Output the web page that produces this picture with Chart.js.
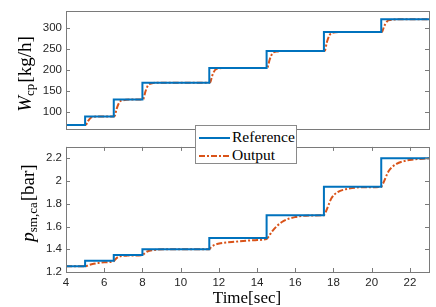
<!DOCTYPE html>
<html>
<head>
<meta charset="utf-8">
<script src="https://cdn.jsdelivr.net/npm/chart.js@4"></script>
<style>
  body { margin: 0; background: #fff; }
  #wrap { position: relative; width: 436px; height: 307px; overflow: hidden; }
  canvas { position: absolute; left: 0; }
  .ytitle { position: absolute; font-family: "Liberation Serif", serif; font-size: 19px; color: #000;
            white-space: nowrap; transform: translate(-50%, -50%) rotate(-90deg); }
  .ytitle sub { font-size: 13px; font-style: normal; vertical-align: -3px; line-height: 0; margin-right: 1px; }
  #xtitle { position: absolute; left: 247px; top: 298px; transform: translate(-50%, -50%);
            font-family: "Liberation Serif", serif; font-size: 17px; white-space: nowrap; }
  #legend { position: absolute; left: 195px; top: 125px; width: 100px; height: 37px; background: #fff;
            border: 1px solid #8a8a8a; font-family: "Liberation Serif", serif; font-size: 15.5px; }
  #legend .row { position: absolute; left: 3px; height: 18px; line-height: 18px; white-space: nowrap; }
  #legend svg { vertical-align: middle; margin-right: 2px; }
</style>
</head>
<body>
<div id="wrap">
  <canvas id="top" width="436" height="140" style="top:0"></canvas>
  <canvas id="bottom" width="436" height="171" style="top:136px"></canvas>
  <div class="ytitle" style="left:25px; top:74px;"><i>W</i><sub>cp</sub>[kg/h]</div>
  <div class="ytitle" style="left:28px; top:203px;"><i>p</i><sub>sm,ca</sub>[bar]</div>
  <div id="xtitle">Time[sec]</div>
  <div id="legend">
    <div class="row" style="top:2px"><svg width="31" height="4"><line x1="0" y1="2" x2="31" y2="2" stroke="#0072BD" stroke-width="2"/></svg>Reference</div>
    <div class="row" style="top:20px"><svg width="31" height="4"><line x1="0" y1="2" x2="31" y2="2" stroke="#D95319" stroke-width="2" stroke-dasharray="6,2,2,2"/></svg>Output</div>
  </div>
</div>
<script>
// time axis
var xMin = 4, xMax = 23;
var xTicks = [4, 6, 8, 10, 12, 14, 16, 18, 20, 22];

// compressor flow W_cp [kg/h]
var wTicks = [100, 150, 200, 250, 300];
var wRefTime = [4, 5, 6.5, 8, 11.5, 14.5, 17.5, 20.5, 23];
var wRefVal = [70, 90, 130, 170, 205, 245, 290, 320, 320];
var wOutTime = [4, 5, 5.05, 5.15, 5.3, 5.5, 5.9,
  6.5, 6.55, 6.65, 6.8, 7.0, 7.4,
  8, 8.05, 8.15, 8.3, 8.5, 8.9,
  11.5, 11.55, 11.65, 11.8, 12.0, 12.4,
  14.5, 14.55, 14.65, 14.8, 15.0, 15.4,
  17.5, 17.55, 17.65, 17.8, 18.0, 18.4,
  20.5, 20.55, 20.65, 20.8, 21.0, 21.4, 23];
var wOutVal = [70, 70, 70.5, 79, 87, 89.2, 90,
  90, 91, 108, 124, 128.5, 130,
  130, 131, 148, 164, 168.5, 170,
  170, 171, 186, 200, 204, 205,
  205, 206, 223, 239, 243.5, 245,
  245, 246, 265, 283, 288.5, 290,
  290, 291, 303, 315, 318.5, 320, 320];

// supply manifold pressure p_sm,ca [bar]
var pTicks = [1.2, 1.4, 1.6, 1.8, 2, 2.2];
var pRefTime = [4, 5, 6.5, 8, 11.5, 14.5, 17.5, 20.5, 23];
var pRefVal = [1.25, 1.3, 1.35, 1.4, 1.5, 1.7, 1.95, 2.2, 2.2];
var pOutTime = [4, 5, 5.2, 5.45, 6, 6.5, 6.6, 6.75, 7.2, 8, 8.1, 8.25, 8.65, 9.5, 11.5,
  11.6, 11.8, 12.1, 12.9, 13.9, 14.5, 14.6, 14.8, 15.3, 16, 17, 17.5,
  17.6, 17.9, 18.2, 18.7, 19.5, 20.5, 20.6, 20.9, 21.3, 21.7, 22.1, 23];
var pOutVal = [1.25, 1.25, 1.262, 1.272, 1.285, 1.295, 1.315, 1.334, 1.344, 1.348, 1.362, 1.38, 1.394, 1.4, 1.4,
  1.42, 1.44, 1.453, 1.467, 1.48, 1.49, 1.51, 1.56, 1.64, 1.683, 1.697, 1.7,
  1.73, 1.85, 1.9, 1.93, 1.945, 1.95, 1.98, 2.09, 2.15, 2.175, 2.188, 2.2];

var blue = '#0072BD';
var orange = '#D95319';

function pts(xs, ys) {
  return xs.map(function(x, i) { return {x: x, y: ys[i]}; });
}

// matlab style box with inward ticks
var boxPlugin = {
  id: 'box',
  afterDraw: function(chart, args, opts) {
    var ctx = chart.ctx, a = chart.chartArea;
    var xs = chart.scales.x, ys = chart.scales.y;
    ctx.save();
    ctx.strokeStyle = '#7a7a7a';
    ctx.lineWidth = 1;
    ctx.strokeRect(Math.round(a.left) + 0.5, Math.round(a.top) + 0.5,
      Math.round(a.right - a.left), Math.round(a.bottom - a.top));
    ctx.beginPath();
    opts.yTicks.forEach(function(v) {
      var y = Math.round(ys.getPixelForValue(v)) + 0.5;
      ctx.moveTo(a.left, y); ctx.lineTo(a.left + 4, y);
      ctx.moveTo(a.right, y); ctx.lineTo(a.right - 4, y);
    });
    if (opts.xTicks) {
      opts.xTicks.forEach(function(v) {
        var x = Math.round(xs.getPixelForValue(v)) + 0.5;
        ctx.moveTo(x, a.bottom); ctx.lineTo(x, a.bottom - 4);
        ctx.moveTo(x, a.top); ctx.lineTo(x, a.top + 4);
      });
    }
    ctx.stroke();
    ctx.restore();
  }
};

var tickFont = {family: '"Liberation Sans", Arial, sans-serif', size: 11.5};

function makeChart(id, refT, refV, outT, outV, yMin, yMax, yTicks, showX, pad) {
  return new Chart(document.getElementById(id), {
    type: 'line',
    data: {
      datasets: [{
        label: 'Reference',
        data: pts(refT, refV),
        borderColor: blue,
        borderWidth: 2,
        stepped: 'before',
        pointRadius: 0
      }, {
        label: 'Output',
        data: pts(outT, outV),
        borderColor: orange,
        borderWidth: 2,
        borderDash: [6, 2, 2, 2],
        cubicInterpolationMode: 'monotone',
        pointRadius: 0
      }]
    },
    options: {
      responsive: false,
      animation: false,
      devicePixelRatio: 1,
      layout: {padding: pad},
      plugins: {
        legend: {display: false},
        tooltip: {enabled: false},
        box: {yTicks: yTicks, xTicks: showX ? xTicks : null}
      },
      scales: {
        x: {
          type: 'linear',
          min: xMin,
          max: xMax,
          display: showX,
          grid: {display: false, drawTicks: false},
          border: {display: false},
          afterBuildTicks: function(s) { s.ticks = xTicks.map(function(v) { return {value: v}; }); },
          afterFit: function(s) { s.height = showX ? 35 : 0; },
          ticks: {font: tickFont, color: '#262626', padding: 4, maxRotation: 0,
            callback: function(v) { return String(v); }}
        },
        y: {
          min: yMin,
          max: yMax,
          grid: {display: false, drawTicks: false},
          border: {display: false},
          afterBuildTicks: function(s) { s.ticks = yTicks.map(function(v) { return {value: v}; }); },
          afterFit: function(s) { s.width = 66; },
          ticks: {font: tickFont, color: '#262626', padding: 4,
            callback: function(v) { return String(v); }}
        }
      }
    },
    plugins: [boxPlugin]
  });
}

makeChart('top', wRefTime, wRefVal, wOutTime, wOutVal, 60, 340, wTicks, false,
  {top: 9, right: 7, bottom: 5, left: 0});
makeChart('bottom', pRefTime, pRefVal, pOutTime, pOutVal, 1.2, 2.3, pTicks, true,
  {top: 6, right: 7, bottom: 0, left: 0});
</script>
</body>
</html>
